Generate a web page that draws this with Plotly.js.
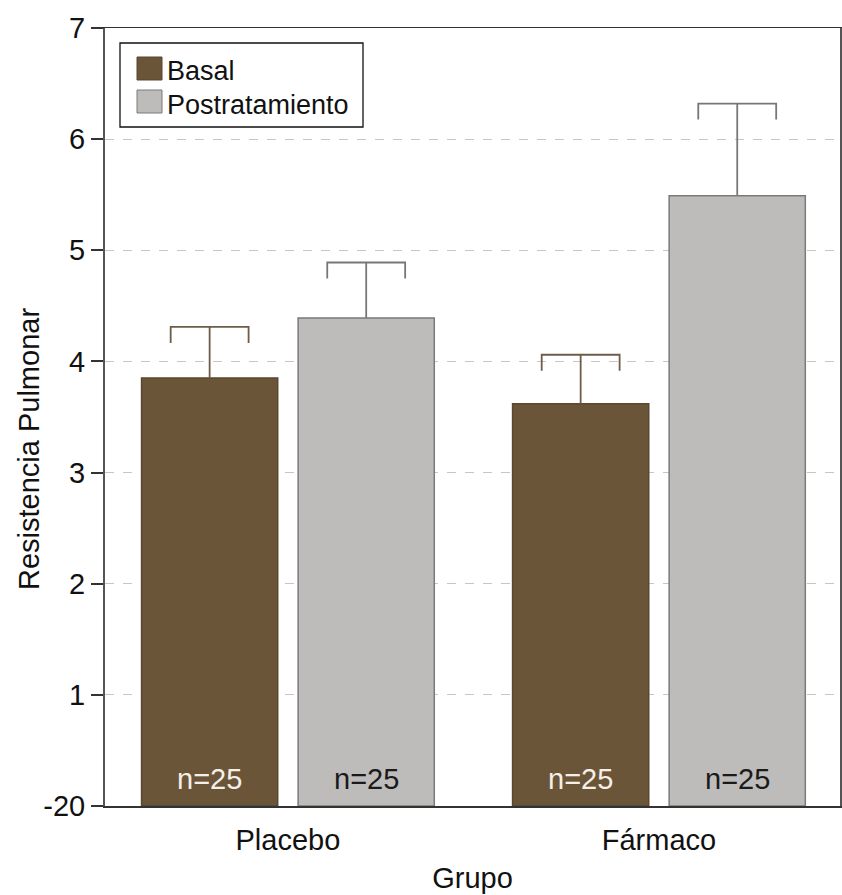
<!DOCTYPE html>
<html>
<head>
<meta charset="utf-8">
<script src="https://cdn.plot.ly/plotly-3.0.1.min.js"></script>
<style>html,body{margin:0;padding:0;background:#fff;}#chart{width:842px;height:895px;}</style>
</head>
<body>
<div id="chart"></div>
<script>
var groups = ['Placebo', 'Fármaco'];
var seriesNames = ['Basal', 'Postratamiento'];
var basalMean = [3.85, 3.62];
var basalErr = [0.46, 0.44];
var postMean = [4.39, 5.49];
var postErr = [0.50, 0.83];
var nLabels = ['n=25', 'n=25'];
var yTickVals = [0, 1, 2, 3, 4, 5, 6, 7];
var yTickText = ['-20', '1', '2', '3', '4', '5', '6', '7'];
var yTitle = 'Resistencia Pulmonar';
var xTitle = 'Grupo';

var OFF = 0.211, BW = 0.367, CAPW = 0.105, CAPDROP = 0.144;
var FONT = 'Liberation Sans, Arial, sans-serif';
var BASAL_FILL = '#6b5538', BASAL_LINE = '#5b4630';
var POST_FILL = '#bdbcbb', POST_LINE = '#7a7a7a';
var idx = groups.map(function (g, i) { return i; });
var xb = idx.map(function (i) { return i - OFF; });
var xp = idx.map(function (i) { return i + OFF; });

function bracket(xs, means, errs) {
  var X = [], Y = [];
  xs.forEach(function (x, i) {
    var t = means[i] + errs[i];
    X.push(x, x, null, x - CAPW, x - CAPW, x + CAPW, x + CAPW, null);
    Y.push(means[i], t, null, t - CAPDROP, t, t, t - CAPDROP, null);
  });
  return { X: X, Y: Y };
}
var bb = bracket(xb, basalMean, basalErr);
var bp = bracket(xp, postMean, postErr);

var traces = [
  { type: 'bar', name: seriesNames[0], x: xb, y: basalMean, width: BW, showlegend: false,
    marker: { color: BASAL_FILL, line: { color: BASAL_LINE, width: 1.5 } }, hoverinfo: 'y' },
  { type: 'bar', name: seriesNames[1], x: xp, y: postMean, width: BW, showlegend: false,
    marker: { color: POST_FILL, line: { color: POST_LINE, width: 1.5 } }, hoverinfo: 'y' },
  { type: 'scatter', mode: 'lines', x: bb.X, y: bb.Y, showlegend: false, hoverinfo: 'skip',
    line: { color: '#6e5c48', width: 1.8 } },
  { type: 'scatter', mode: 'lines', x: bp.X, y: bp.Y, showlegend: false, hoverinfo: 'skip',
    line: { color: '#777777', width: 1.8 } }
];

var annotations = [];
idx.forEach(function (i) {
  annotations.push({ x: xb[i], y: 0, xref: 'x', yref: 'y', text: nLabels[i], showarrow: false,
    yanchor: 'bottom', yshift: 9, font: { family: FONT, size: 29, color: '#f4efe8' } });
  annotations.push({ x: xp[i], y: 0, xref: 'x', yref: 'y', text: nLabels[i], showarrow: false,
    yanchor: 'bottom', yshift: 9, font: { family: FONT, size: 29, color: '#1a1a1a' } });
});

// plot area: x 105..840 px, y 28..806 px
function px(x) { return (x - 105) / 735; }
function py(y) { return (806 - y) / 778; }

// y-axis title (placed lower than centre, as in the original)
annotations.push({ xref: 'paper', yref: 'paper', x: px(29), y: py(449), xanchor: 'center', yanchor: 'middle',
  textangle: -90, text: yTitle, showarrow: false, font: { family: FONT, size: 29, color: '#111' } });

// manual legend
var shapes = [
  { type: 'rect', xref: 'paper', yref: 'paper', x0: px(120), x1: px(363), y0: py(127), y1: py(43),
    line: { color: '#111111', width: 1.3 }, fillcolor: '#ffffff', layer: 'above' },
  { type: 'rect', xref: 'paper', yref: 'paper', x0: px(137), x1: px(162), y0: py(80), y1: py(57),
    line: { color: BASAL_LINE, width: 1 }, fillcolor: BASAL_FILL, layer: 'above' },
  { type: 'rect', xref: 'paper', yref: 'paper', x0: px(137), x1: px(162), y0: py(113), y1: py(90),
    line: { color: POST_LINE, width: 1 }, fillcolor: POST_FILL, layer: 'above' }
];
annotations.push({ xref: 'paper', yref: 'paper', x: px(165), y: py(71), xanchor: 'left', yanchor: 'middle',
  text: seriesNames[0], showarrow: false, font: { family: FONT, size: 27, color: '#111' } });
annotations.push({ xref: 'paper', yref: 'paper', x: px(165), y: py(105), xanchor: 'left', yanchor: 'middle',
  text: seriesNames[1], showarrow: false, font: { family: FONT, size: 27, color: '#111' } });

var layout = {
  width: 842, height: 895,
  margin: { l: 105, r: 2, t: 28, b: 89 },
  paper_bgcolor: '#ffffff', plot_bgcolor: '#ffffff',
  font: { family: FONT, size: 28, color: '#111111' },
  showlegend: false,
  xaxis: {
    type: 'linear', range: [-0.493, 1.488], tickvals: idx, ticktext: groups,
    showgrid: false, zeroline: false, showline: true, linecolor: '#333333', linewidth: 1.5,
    mirror: true, ticks: 'outside', ticklen: 8, tickcolor: 'rgba(0,0,0,0)',
    tickfont: { family: FONT, size: 29, color: '#111' },
    title: { text: xTitle, font: { family: FONT, size: 29, color: '#111' }, standoff: 12 }
  },
  yaxis: {
    range: [0, 7], tickvals: yTickVals, ticktext: yTickText,
    showgrid: true, gridcolor: '#c6c6c6', griddash: 'dash', gridwidth: 1.2,
    zeroline: false, showline: true, linecolor: '#555555', linewidth: 2, mirror: true,
    ticks: 'outside', ticklen: 12, tickwidth: 2, tickcolor: '#333333',
    tickfont: { family: FONT, size: 29, color: '#111' }
  },
  shapes: shapes,
  annotations: annotations
};

Plotly.newPlot('chart', traces, layout, { displayModeBar: false, staticPlot: true });
</script>
</body>
</html>
